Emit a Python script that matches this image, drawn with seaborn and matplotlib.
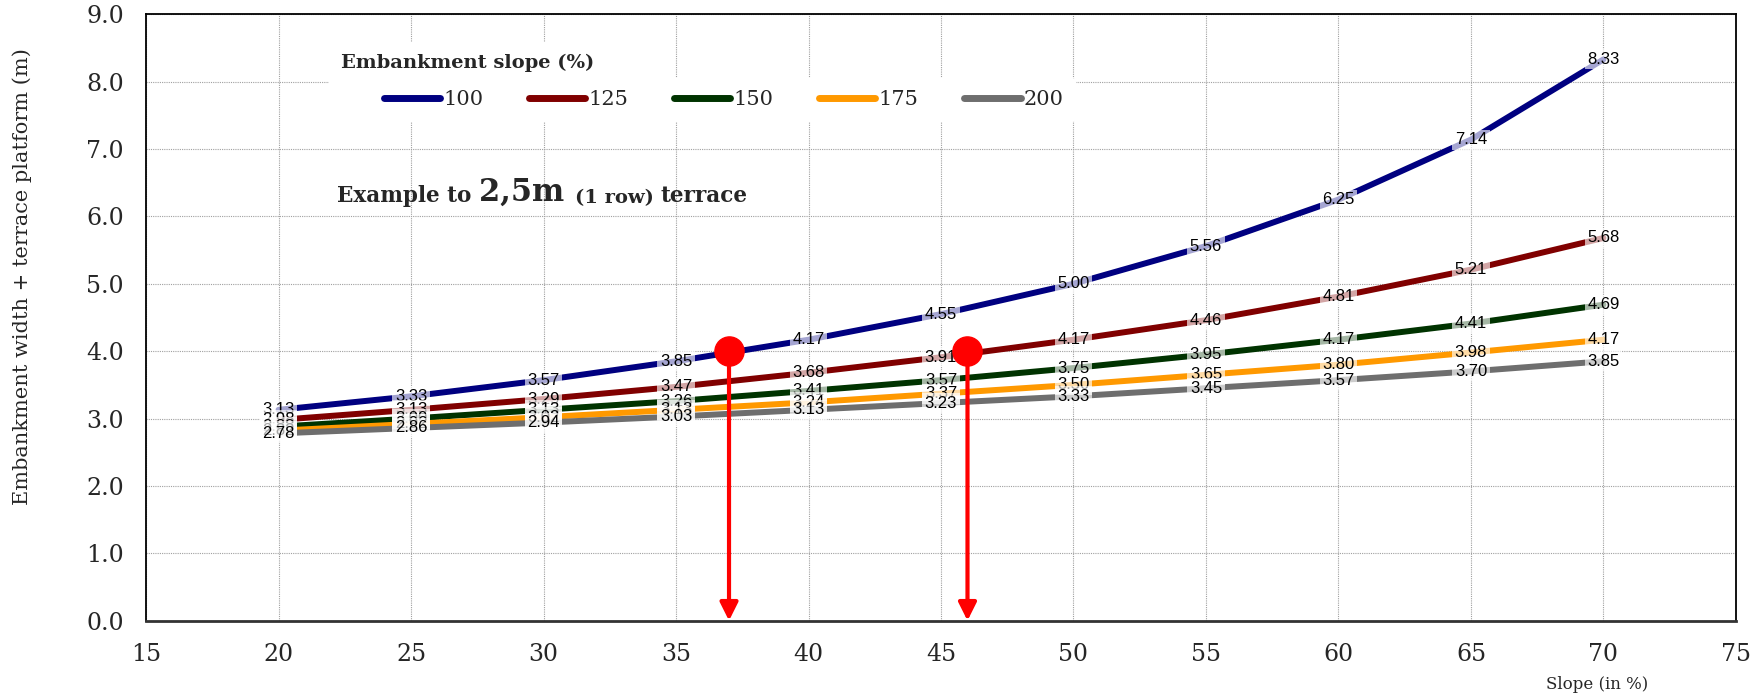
import pandas as pd
import numpy as np
import matplotlib
matplotlib.use("Agg")
import matplotlib.pyplot as plt
import seaborn as sns

# Data
slope = [20, 25, 30, 35, 40, 45, 50, 55, 60, 65, 70]
emb_100 = [3.13, 3.33, 3.57, 3.85, 4.17, 4.55, 5.00, 5.56, 6.25, 7.14, 8.33]
emb_125 = [2.98, 3.13, 3.29, 3.47, 3.68, 3.91, 4.17, 4.46, 4.81, 5.21, 5.68]
emb_150 = [2.88, 3.00, 3.13, 3.26, 3.41, 3.57, 3.75, 3.95, 4.17, 4.41, 4.69]
emb_175 = [2.82, 2.92, 3.02, 3.13, 3.24, 3.37, 3.50, 3.65, 3.80, 3.98, 4.17]
emb_200 = [2.78, 2.86, 2.94, 3.03, 3.13, 3.23, 3.33, 3.45, 3.57, 3.70, 3.85]
series_names = ["100", "125", "150", "175", "200"]
colors = ["#000080", "#800000", "#003300", "#FF9900", "#6E6E6E"]

# example markers (red dots + arrows)
arrow_x = [37, 46]
arrow_y = [4.0, 4.0]

rows = []
for name, vals in zip(series_names, [emb_100, emb_125, emb_150, emb_175, emb_200]):
    for s, v in zip(slope, vals):
        rows.append({"slope": s, "width": v, "emb": name})
df = pd.DataFrame(rows)

sns.set_style("white")
plt.rcParams["font.family"] = ["DejaVu Serif"]

fig = plt.figure(figsize=(17.62, 7), dpi=100)
ax = fig.add_axes([0.0829, 0.1133, 0.9023, 0.8663])

sns.lineplot(data=df, x="slope", y="width", hue="emb", hue_order=series_names,
             palette=dict(zip(series_names, colors)), lw=4.3, ax=ax,
             legend=False, zorder=3)

# data labels, later series drawn on top
for i, name in enumerate(series_names):
    sub = df[df["emb"] == name]
    for s, v in zip(sub["slope"], sub["width"]):
        ax.text(s, v, f"{v:.2f}", ha="center", va="center", fontsize=12,
                family="Liberation Sans", color="black", zorder=5 + i,
                bbox=dict(boxstyle="square,pad=0.15", fc="white", ec="none", alpha=0.65))

# red example markers
for x0, y0 in zip(arrow_x, arrow_y):
    ax.annotate("", xy=(x0, 0), xytext=(x0, y0),
                arrowprops=dict(arrowstyle="-|>", color="red", lw=3,
                                mutation_scale=27, shrinkA=0, shrinkB=0),
                zorder=12)
ax.plot(arrow_x, arrow_y, "o", color="red", ms=21, zorder=13)

ax.set_xlim(15, 75)
ax.set_ylim(0, 9)
ax.set_xticks(np.arange(15, 76, 5))
ax.set_yticks(np.arange(0, 9.1, 1))
ax.yaxis.set_major_formatter(matplotlib.ticker.FormatStrFormatter("%.1f"))
ax.tick_params(axis="both", labelsize=17, direction="out", length=8, width=1,
               color="black", pad=8)
ax.grid(True, linestyle=(0, (1, 1)), color="#A0A0A0", lw=0.8)
ax.set_axisbelow(True)
for sp in ax.spines.values():
    sp.set_color("black")
    sp.set_linewidth(1.3)
ax.spines["bottom"].set_color("#333333")
ax.spines["bottom"].set_linewidth(2)

ax.set_xlabel("Slope (in %)", fontsize=12)
ax.xaxis.set_label_coords(0.9126, -0.092)
ax.set_ylabel("Embankment width + terrace platform (m)", fontsize=15)
ax.yaxis.set_label_coords(-0.072, 0.568)

# legend
leg = ax.legend(handles=ax.lines[:5], labels=series_names, ncol=5,
                loc="center left", bbox_to_anchor=(0.135, 0.859),
                fontsize=15, handlelength=2.7, handletextpad=0.15,
                columnspacing=2.2, frameon=True, facecolor="white",
                edgecolor="none", framealpha=1, borderpad=0.6)
for h in leg.legend_handles:
    h.set_solid_capstyle("round")
    h.set_linewidth(5)
ax.text(0.1226, 0.92, "Embankment slope (%)", transform=ax.transAxes,
        fontsize=14, fontweight="bold", ha="left", va="center",
        bbox=dict(boxstyle="square,pad=0.6", fc="white", ec="none"))

# annotation text with mixed sizes
t1 = ax.text(0.120, 0.69, "Example to ", transform=ax.transAxes,
             fontsize=15.5, fontweight="bold", ha="left", va="baseline")
t2 = ax.annotate("2,5m ", xycoords=t1, xy=(1, 0), va="bottom",
                 fontsize=22, fontweight="bold")
t3 = ax.annotate("(1 row) ", xycoords=t2, xy=(1, 0), va="bottom",
                 fontsize=14, fontweight="bold")
ax.annotate("terrace", xycoords=t3, xy=(1, 0), va="bottom",
            fontsize=15.5, fontweight="bold")

fig.savefig("out.png", dpi=100)
